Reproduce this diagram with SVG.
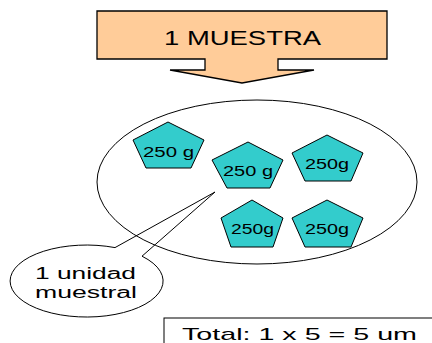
<svg xmlns="http://www.w3.org/2000/svg" width="432" height="343" viewBox="0 0 432 343">
<style>
.t{font-family:"Liberation Sans",Arial,sans-serif;fill:#000}
.pent{fill:#33CCCC;stroke:#000;stroke-width:1}
.line{fill:none;stroke:#000;stroke-width:1}
</style>
<rect width="432" height="343" fill="#fff"/>
<g id="muestra">
<path d="M97,11 H387 V59 H278 V70 H314 L242,83 L170,70 H205 V59 H97 Z" fill="#FFCC99" stroke="#000" stroke-width="1.3"/>
<text class="t" x="164" y="45" font-size="20" textLength="157" lengthAdjust="spacingAndGlyphs">1 MUESTRA</text>
</g>
<g id="grupo">
<ellipse cx="257" cy="182" rx="160" ry="82" class="line"/>
</g>
<g id="p1">
<polygon class="pent" points="168,122 204,140 191,168 146,168 133,140"/>
<text class="t" x="143" y="157" font-size="15" textLength="51" lengthAdjust="spacingAndGlyphs">250 g</text>
</g>
<g id="p2">
<polygon class="pent" points="248,142 283,160 270,188 227,188 212,160"/>
<text class="t" x="223" y="176" font-size="15" textLength="50" lengthAdjust="spacingAndGlyphs">250 g</text>
</g>
<g id="p3">
<polygon class="pent" points="327,135 363,153 351,181 305,181 292,153"/>
<text class="t" x="305" y="169" font-size="15" textLength="44" lengthAdjust="spacingAndGlyphs">250g</text>
</g>
<g id="p4">
<polygon class="pent" points="252,200 283,218 273,247 231,247 221,218"/>
<text class="t" x="231" y="234" font-size="15" textLength="43" lengthAdjust="spacingAndGlyphs">250g</text>
</g>
<g id="p5">
<polygon class="pent" points="327,200 363,218 351,247 305,247 292,218"/>
<text class="t" x="305" y="234" font-size="15" textLength="44" lengthAdjust="spacingAndGlyphs">250g</text>
</g>
<g id="unidad">
<path class="line" d="M115,247.6 L215,192 L142,256.2 A76.5,36 0 1 1 115,247.6 Z"/>
<text class="t" x="35" y="279" font-size="16" textLength="101" lengthAdjust="spacingAndGlyphs">1 unidad</text>
<text class="t" x="35" y="298" font-size="16" textLength="102" lengthAdjust="spacingAndGlyphs">muestral</text>
</g>
<g id="total">
<rect x="164" y="318" width="290" height="40" fill="#fff" stroke="#000" stroke-width="1"/>
<text class="t" x="182" y="340" font-size="17" textLength="235" lengthAdjust="spacingAndGlyphs">Total: 1 x 5 = 5 um</text>
</g>
</svg>
